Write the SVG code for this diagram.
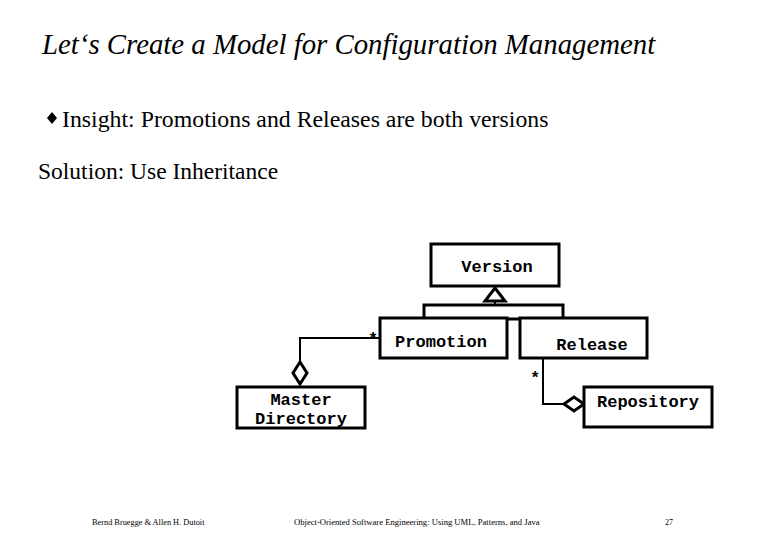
<svg xmlns="http://www.w3.org/2000/svg" width="780" height="540" viewBox="0 0 780 540">
<style>
.b{fill:#fff;stroke:#000;stroke-width:3}
.l{fill:none;stroke:#000;stroke-width:2}
.m{font-family:'Liberation Mono',monospace;font-size:17px;font-weight:bold;text-anchor:middle}
.s{font-family:'Liberation Serif','Times New Roman',serif}
</style>
<rect width="780" height="540" fill="#fff"/>
<text class="s" x="42" y="54" font-size="28.8" font-style="italic">Let‘s Create a Model for Configuration Management</text>
<path d="M47 118 l5 -6 5 6 -5 6z" fill="#000"/>
<text class="s" x="62" y="127" font-size="23.8">Insight: Promotions and Releases are both versions</text>
<text class="s" x="38" y="179" font-size="23.5">Solution: Use Inheritance</text>
<g id="connectors">
<path class="l" d="M380 338 H300 V362"/>
<path class="b" d="M300 362 l7 11 -7 11 -7 -11z" stroke-width="2.5"/>
<path class="l" d="M543 358 V404 H564"/>
<path class="b" d="M564 404 l10 -7 10 7 -10 7z" stroke-width="2.5"/>
<path class="l" d="M495 300 V305"/>
<path class="b" d="M495 288 l10 13 h-20z" stroke-width="2.5"/>
<rect class="b" x="424" y="305" width="139" height="14"/>
<text class="m" x="373" y="344" font-size="22">*</text>
<text class="m" x="535" y="383" font-size="22">*</text>
</g>
<g id="version"><rect class="b" x="431" y="244" width="128" height="42"/><text class="m" x="497" y="272">Version</text></g>
<g id="promotion"><rect class="b" x="380" y="318" width="127" height="40"/><text class="m" x="441" y="347">Promotion</text></g>
<g id="release"><rect class="b" x="520" y="318" width="127" height="40"/><text class="m" x="592" y="350">Release</text></g>
<g id="master"><rect class="b" x="237" y="387" width="128" height="41"/><text class="m" x="301" y="405" font-size="16">Master</text><text class="m" x="301" y="424" font-size="16">Directory</text></g>
<g id="repository"><rect class="b" x="584" y="387" width="128" height="40"/><text class="m" x="648" y="407">Repository</text></g>
<text class="s" x="92" y="525" font-size="8.3">Bernd Bruegge &amp; Allen H. Dutoit</text>
<text class="s" x="294" y="525" font-size="8.6">Object-Oriented Software Engineering: Using UML, Patterns, and Java</text>
<text class="s" x="665" y="525" font-size="8">27</text>
</svg>
